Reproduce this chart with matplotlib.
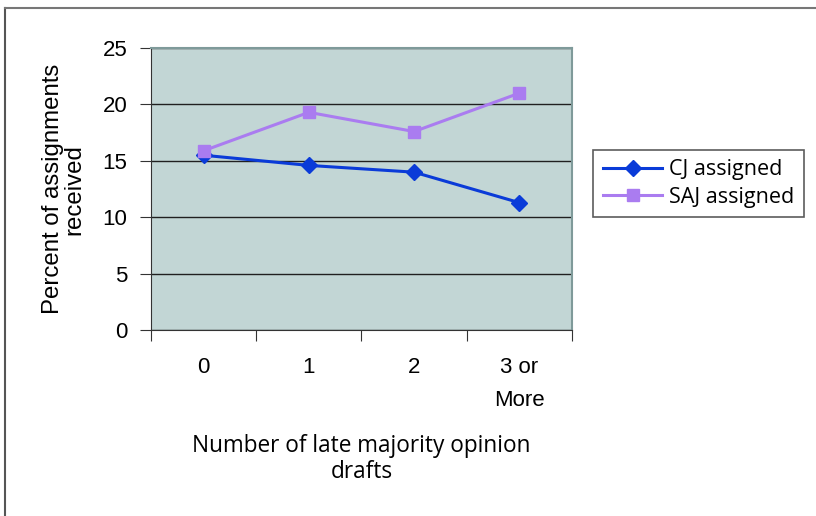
import matplotlib.pyplot as plt
import numpy as np

categorias = ['0', '1', '2', '3 or\nMore']
cj_assigned = [15.5, 14.6, 14.0, 11.3]
saj_assigned = [15.9, 19.3, 17.6, 21.0]

fig = plt.figure(figsize=(8.16, 5.16), dpi=100)
ax = fig.add_axes([0.185, 0.360, 0.516, 0.547])

# marco exterior de la figura
fig.add_artist(plt.Line2D([0.006, 0.006], [0.0, 0.985], transform=fig.transFigure,
                          color='#555555', lw=1.5))
fig.add_artist(plt.Line2D([0.006, 1.0], [0.985, 0.985], transform=fig.transFigure,
                          color='#777777', lw=1.5))

x = np.arange(len(categorias))
ax.set_facecolor('#C2D6D5')
ax.plot(x, cj_assigned, color='#0A3BD8', lw=2.2, marker='D', markersize=8,
        label='CJ assigned', zorder=3)
ax.plot(x, saj_assigned, color='#AA7CF0', lw=2.2, marker='s', markersize=9,
        label='SAJ assigned', zorder=3)

ax.set_xlim(-0.5, 3.5)
ax.set_ylim(0, 25)
ax.set_yticks([0, 5, 10, 15, 20, 25])
ax.yaxis.grid(True, color='#202020', lw=1.0)
ax.set_axisbelow(True)

ax.set_xticks(np.arange(-0.5, 4.0, 1.0))
ax.set_xticklabels([])
ax.set_xticks(x, minor=True)
ax.set_xticklabels(categorias, minor=True, fontsize=16, family='Liberation Sans',
                   linespacing=1.75)
ax.tick_params(axis='x', which='minor', length=0, pad=19)
ax.tick_params(axis='x', which='major', length=8, color='#333333')
ax.tick_params(axis='y', length=8, color='#333333', labelsize=16, pad=9)
for lab in ax.get_yticklabels():
    lab.set_family('Liberation Sans')
for lab in ax.get_xticklabels(minor=True):
    lab.set_verticalalignment('top')

for s in ['top', 'right']:
    ax.spines[s].set_color('#7F9A9A')
    ax.spines[s].set_linewidth(1.5)
ax.spines['left'].set_color('#333333')
ax.spines['bottom'].set_color('#333333')

ax.set_ylabel('Percent of assignments\nreceived', fontsize=17.3, family='Liberation Sans',
              labelpad=12, linespacing=1.0)
ax.set_xlabel('Number of late majority opinion\ndrafts', fontsize=16.3, family='Open Sans',
              labelpad=17, linespacing=1.12)

leg = fig.legend(loc='upper left', bbox_to_anchor=(0.727, 0.71),
                 prop={'family': 'Open Sans', 'size': 15.5}, frameon=True, fancybox=False,
                 borderpad=0.45, handlelength=2.75, labelspacing=0.3, handletextpad=0.3,
                 borderaxespad=0)
leg.get_frame().set_edgecolor('#333333')
leg.get_frame().set_linewidth(1.2)

fig.savefig('out.png', dpi=100)
